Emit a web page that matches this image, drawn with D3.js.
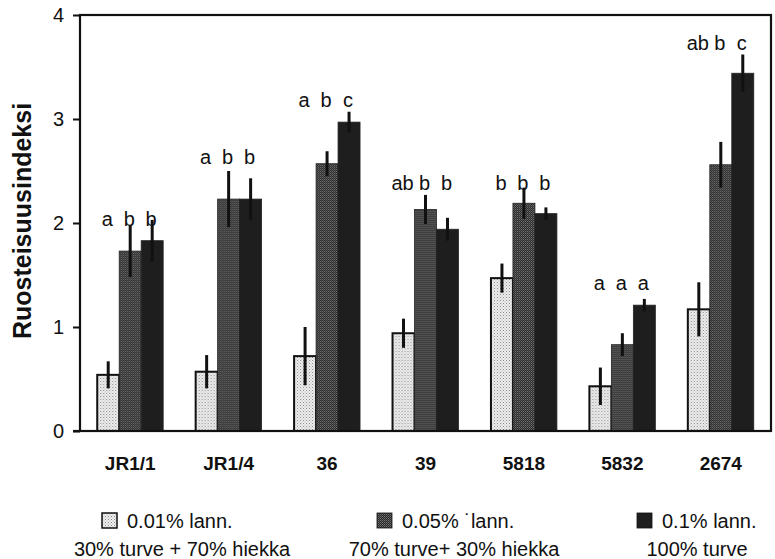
<!DOCTYPE html>
<html>
<head>
<meta charset="utf-8">
<script src="https://cdn.jsdelivr.net/npm/d3@7"></script>
<style>
  body { margin: 0; background: #fff; }
  text { font-family: "Liberation Sans", Arial, sans-serif; fill: #111; }
</style>
</head>
<body>
<div id="chart"></div>
<script>
// values
var categories = ["JR1/1", "JR1/4", "36", "39", "5818", "5832", "2674"];
var series = ["low", "mid", "high"];
var lowVals  = [0.54, 0.57, 0.72, 0.94, 1.47, 0.43, 1.17];
var lowErr   = [0.13, 0.16, 0.28, 0.14, 0.14, 0.18, 0.26];
var midVals  = [1.73, 2.23, 2.57, 2.13, 2.19, 0.83, 2.56];
var midErr   = [0.25, 0.27, 0.12, 0.14, 0.15, 0.11, 0.22];
var highVals = [1.83, 2.23, 2.97, 1.94, 2.09, 1.21, 3.44];
var highErr  = [0.20, 0.20, 0.10, 0.11, 0.06, 0.06, 0.18];
var letters = [["a", "b", "b"], ["a", "b", "b"], ["a", "b", "c"], ["ab", "b", "b"],
               ["b", "b", "b"], ["a", "a", "a"], ["ab", "b", "c"]];
var letterLevel = [2.04, 2.63, 3.18, 2.38, 2.38, 1.42, 3.73];
var yTicks = [0, 1, 2, 3, 4];
var legendLine1 = ["0.01% lann.", "0.05% \u02D9lann.", "0.1% lann."];
var legendLine2 = ["30% turve + 70% hiekka", "70% turve+ 30% hiekka", "100% turve"];

var valsBySeries = {low: lowVals, mid: midVals, high: highVals};
var errBySeries = {low: lowErr, mid: midErr, high: highErr};

var margin = {top: 15, right: 4, bottom: 128, left: 80},
    width = 775 - margin.left - margin.right,
    height = 559 - margin.top - margin.bottom;

var svg = d3.select("#chart")
  .append("svg")
    .attr("width", 775)
    .attr("height", 559);

// stipple patterns
var defs = svg.append("defs");
var pLow = defs.append("pattern").attr("id", "pLow")
    .attr("width", 3).attr("height", 3).attr("patternUnits", "userSpaceOnUse");
pLow.append("rect").attr("width", 3).attr("height", 3).attr("fill", "#efefef");
pLow.append("rect").attr("width", 1).attr("height", 1).attr("fill", "#888");
pLow.append("rect").attr("x", 1.5).attr("y", 1.5).attr("width", 1).attr("height", 1).attr("fill", "#aaa");

var pMid = defs.append("pattern").attr("id", "pMid")
    .attr("width", 2).attr("height", 2).attr("patternUnits", "userSpaceOnUse");
pMid.append("rect").attr("width", 2).attr("height", 2).attr("fill", "#2a2a2a");
pMid.append("rect").attr("width", 1).attr("height", 1).attr("fill", "#747474");
pMid.append("rect").attr("x", 1).attr("y", 1).attr("width", 1).attr("height", 1).attr("fill", "#555");

var fills = {low: "url(#pLow)", mid: "url(#pMid)", high: "#1e1e1e"};

var g = svg.append("g")
    .attr("transform", "translate(" + margin.left + "," + margin.top + ")");

var x0 = d3.scaleBand()
  .domain(categories)
  .range([0, width])
  .paddingInner(0.33)
  .paddingOuter(0.175);

var x1 = d3.scaleBand()
  .domain(series)
  .range([0, x0.bandwidth()]);

var y = d3.scaleLinear()
  .domain([0, 4])
  .range([height, 0]);

// Y axis
var yAxis = g.append("g")
  .call(d3.axisLeft(y).tickValues(yTicks).tickFormat(d3.format("d")).tickSize(7).tickPadding(9).tickSizeOuter(0));
yAxis.select(".domain").remove();
yAxis.selectAll("line").attr("stroke", "#111").attr("stroke-width", 2);
yAxis.selectAll("text")
  .style("font-size", "20px")
  .style("font-family", "Liberation Sans, Arial, sans-serif")
  .attr("fill", "#111");

// X axis labels
var xAxis = g.append("g")
  .attr("transform", "translate(0," + height + ")")
  .call(d3.axisBottom(x0).tickSize(0).tickPadding(26));
xAxis.select(".domain").remove();
xAxis.selectAll("text")
  .style("font-size", "19px")
  .style("font-weight", "bold")
  .style("font-family", "Liberation Sans, Arial, sans-serif")
  .attr("fill", "#111");

// bars
var groups = g.selectAll(".grp")
  .data(categories)
  .enter()
  .append("g")
    .attr("class", "grp")
    .attr("transform", function(d) { return "translate(" + x0(d) + ",0)"; });

groups.each(function(cat, i) {
  var grp = d3.select(this);
  series.forEach(function(s, j) {
    var v = valsBySeries[s][i], e = errBySeries[s][i];
    var cx = x1(s) + x1.bandwidth() / 2;
    grp.append("rect")
      .attr("x", x1(s))
      .attr("y", y(v))
      .attr("width", x1.bandwidth())
      .attr("height", height - y(v))
      .attr("fill", fills[s])
      .attr("stroke", s == "low" ? "#111" : "#222")
      .attr("stroke-width", s == "low" ? 2 : 0.8);
    grp.append("line")
      .attr("x1", cx).attr("x2", cx)
      .attr("y1", y(v + e)).attr("y2", y(v - e))
      .attr("stroke", "#111")
      .attr("stroke-width", 3);
    grp.append("text")
      .attr("x", cx - 1)
      .attr("y", y(letterLevel[i]))
      .attr("dy", "0.35em")
      .style("text-anchor", "middle")
      .style("font-size", "20px")
      .text(letters[i][j]);
  });
});

// frame
g.append("rect")
  .attr("x", 0).attr("y", 0)
  .attr("width", width).attr("height", height)
  .attr("fill", "none")
  .attr("stroke", "#111")
  .attr("stroke-width", 2.2);
g.append("line")
  .attr("x1", -7).attr("x2", 0)
  .attr("y1", height).attr("y2", height)
  .attr("stroke", "#111").attr("stroke-width", 2.2);

// Y axis label
svg.append("text")
  .attr("transform", "rotate(-90)")
  .attr("x", -221)
  .attr("y", 31)
  .style("text-anchor", "middle")
  .style("font-size", "25px")
  .style("font-weight", "bold")
  .text("Ruosteisuusindeksi");

// legend
var legendTextX = [127, 402, 662];
var legendCenterX = [182, 454, 697];
var legendFills = [fills.low, fills.mid, fills.high];

legendLine1.forEach(function(t, i) {
  svg.append("rect")
    .attr("x", legendTextX[i] - 25)
    .attr("y", 513)
    .attr("width", 15)
    .attr("height", 15)
    .attr("fill", legendFills[i])
    .attr("stroke", "#111")
    .attr("stroke-width", i == 0 ? 1.5 : 0.8);
  svg.append("text")
    .attr("x", legendTextX[i])
    .attr("y", 528)
    .style("font-size", "20px")
    .text(t);
  svg.append("text")
    .attr("x", legendCenterX[i])
    .attr("y", 556)
    .style("text-anchor", "middle")
    .style("font-size", "20px")
    .text(legendLine2[i]);
});
</script>
</body>
</html>
